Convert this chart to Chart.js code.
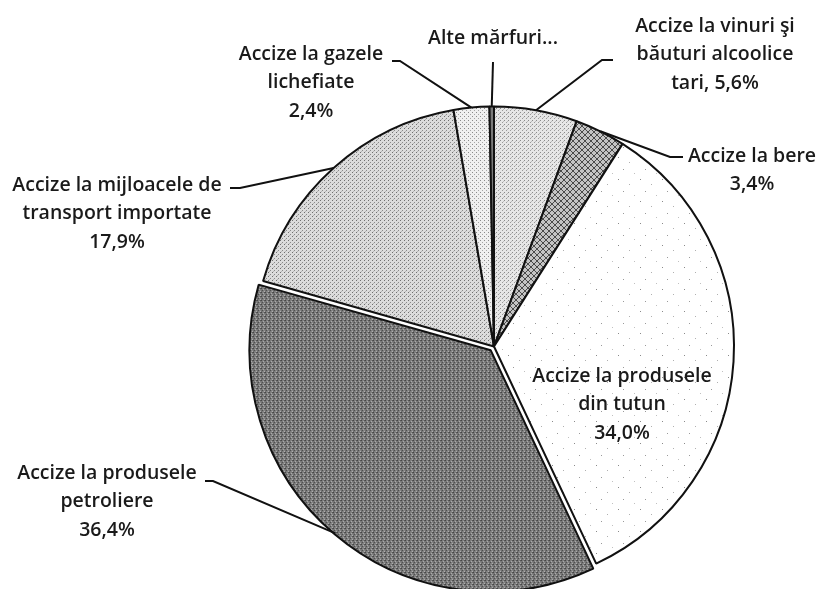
<!DOCTYPE html>
<html>
<head>
<meta charset="utf-8">
<script src="https://cdn.jsdelivr.net/npm/chart.js@4"></script>
<style>
  html, body { margin: 0; background: #fff; }
  #wrap { width: 818px; height: 589px; }
</style>
</head>
<body>
<div id="wrap"><canvas id="chart"></canvas></div>
<script>
// data
const categories = [
  'Accize la vinuri şi băuturi alcoolice tari',
  'Accize la bere',
  'Accize la produsele din tutun',
  'Accize la produsele petroliere',
  'Accize la mijloacele de transport importate',
  'Accize la gazele lichefiate',
  'Alte mărfuri...'
]
const shares = [5.6, 3.4, 34.0, 36.4, 17.9, 2.4, 0.3]
const showPct = [true, true, true, true, true, true, false]

// how the labels are wrapped
const nameLines = [
  ['Accize la vinuri şi', 'băuturi alcoolice', 'tari,'],
  ['Accize la bere'],
  ['Accize la produsele', 'din tutun'],
  ['Accize la produsele', 'petroliere'],
  ['Accize la mijloacele de', 'transport importate'],
  ['Accize la gazele', 'lichefiate'],
  ['Alte mărfuri...']
]

// label placement (center x, first line y, leader elbow)
const labelPos = [
  { x: 715, y: 25, leader: [[613, 60], [602, 60]] },
  { x: 752, y: 155, leader: [[683, 157], [670, 157]] },
  { x: 622, y: 375, leader: null },
  { x: 107, y: 472, leader: [[205, 481], [213, 481]] },
  { x: 117, y: 184, leader: [[230, 188], [240, 188]] },
  { x: 311, y: 53, leader: [[392, 61], [400, 61]] },
  { x: 493, y: 37, leader: [[493, 62]] }
]

function pattern(bg, size, pixels) {
  const c = document.createElement('canvas')
  c.width = size
  c.height = size
  const g = c.getContext('2d')
  g.fillStyle = bg
  g.fillRect(0, 0, size, size)
  pixels.forEach(([x, y, col]) => {
    g.fillStyle = col
    g.fillRect(x, y, 1, 1)
  })
  return g.createPattern(c, 'repeat')
}

function hatch(bg, line, size) {
  const c = document.createElement('canvas')
  c.width = size
  c.height = size
  const g = c.getContext('2d')
  g.fillStyle = bg
  g.fillRect(0, 0, size, size)
  g.strokeStyle = line
  g.lineWidth = 1
  g.beginPath()
  g.moveTo(0, 0); g.lineTo(size, size)
  g.moveTo(size, 0); g.lineTo(0, size)
  g.stroke()
  return g.createPattern(c, 'repeat')
}

const fills = [
  pattern('#e6e6e6', 4, [[0, 0, '#8a8a8a'], [2, 2, '#9a9a9a'], [3, 1, '#bdbdbd']]),
  hatch('#c4c4c4', '#4a4a4a', 6),
  pattern('#ffffff', 22, [[2, 3, '#8a8a8a'], [13, 8, '#b0b0b0'], [7, 15, '#9a9a9a'], [18, 19, '#c0c0c0']]),
  pattern('#7a7a7a', 4, [[0, 0, '#2e2e2e'], [2, 1, '#c4c4c4'], [1, 2, '#3a3a3a'], [3, 3, '#d4d4d4'], [3, 0, '#555555']]),
  pattern('#dcdcdc', 4, [[0, 0, '#6f6f6f'], [2, 2, '#8a8a8a'], [1, 3, '#b5b5b5']]),
  pattern('#f0f0f0', 4, [[0, 0, '#8a8a8a'], [2, 2, '#a5a5a5']]),
  '#7a7a7a'
]

const fmt = v => v.toFixed(1).replace('.', ',') + '%'

const labelPlugin = {
  id: 'pieLabels',
  afterDatasetsDraw(chart) {
    const ctx = chart.ctx
    const arcs = chart.getDatasetMeta(0).data
    ctx.save()
    ctx.font = '600 19.5px "Open Sans", sans-serif'
    ctx.fillStyle = '#1a1a1a'
    ctx.textAlign = 'center'
    ctx.textBaseline = 'middle'
    ctx.strokeStyle = '#111'
    ctx.lineWidth = 2
    arcs.forEach((arc, i) => {
      const pos = labelPos[i]
      const lines = nameLines[i].slice()
      if (showPct[i]) {
        const last = lines[lines.length - 1]
        if (last.endsWith(',')) lines[lines.length - 1] = last + ' ' + fmt(shares[i])
        else lines.push(fmt(shares[i]))
      }
      lines.forEach((t, k) => ctx.fillText(t, pos.x, pos.y + 1 + k * 28.5))

      if (pos.leader) {
        const p = arc.getProps(['x', 'y', 'startAngle', 'endAngle', 'outerRadius'], true)
        const mid = (p.startAngle + p.endAngle) / 2
        const shift = (arc.options.offset || 0) / 4
        const r = p.outerRadius + shift
        const ax = p.x + Math.cos(mid) * r
        const ay = p.y + Math.sin(mid) * r
        ctx.beginPath()
        ctx.moveTo(pos.leader[0][0], pos.leader[0][1])
        pos.leader.slice(1).forEach(([x, y]) => ctx.lineTo(x, y))
        ctx.lineTo(ax, ay)
        ctx.stroke()
      }
    })
    ctx.restore()
  }
}

new Chart(document.getElementById('chart'), {
  type: 'pie',
  data: {
    labels: categories,
    datasets: [{
      data: shares,
      backgroundColor: fills,
      borderColor: '#111',
      borderWidth: 2,
      offset: [0, 0, 0, 20, 0, 0, 0],
      radius: 240
    }]
  },
  options: {
    responsive: true,
    maintainAspectRatio: false,
    animation: false,
    layout: { padding: { left: 170, right: 0, top: 104, bottom: 0 } },
    plugins: {
      legend: { display: false },
      tooltip: { enabled: false }
    }
  },
  plugins: [labelPlugin]
})
</script>
</body>
</html>
